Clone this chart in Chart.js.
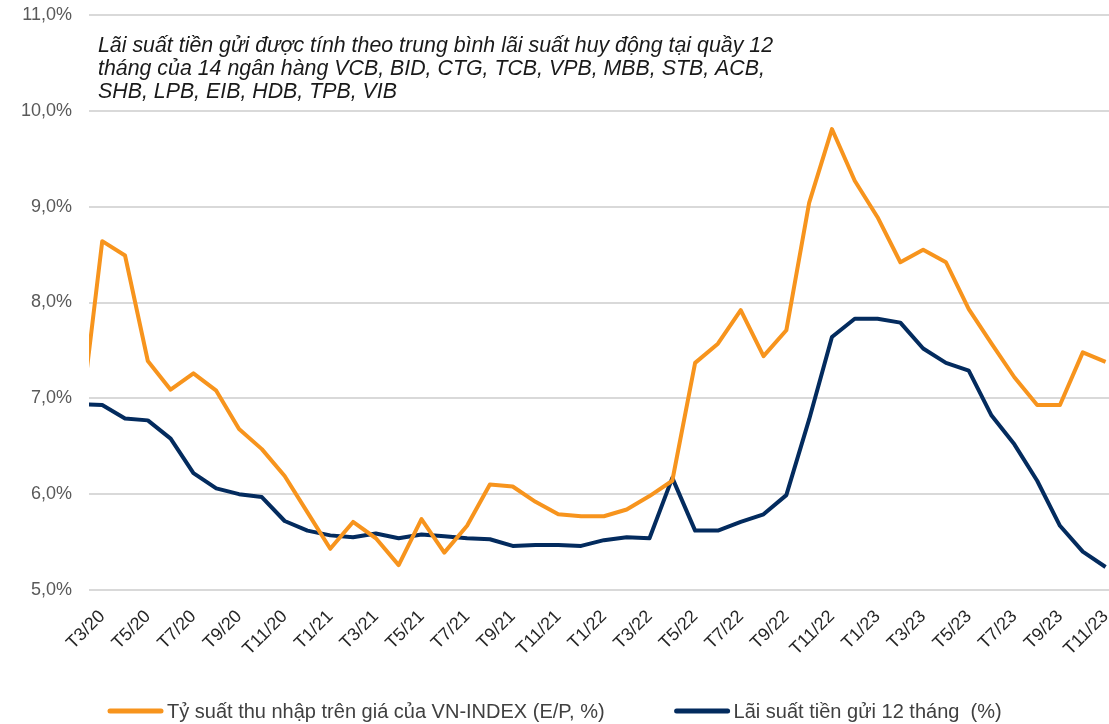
<!DOCTYPE html>
<html lang="vi">
<head>
<meta charset="utf-8">
<title>E/P VN-INDEX và lãi suất tiền gửi 12 tháng</title>
<script src="https://cdn.jsdelivr.net/npm/chart.js@4.4.1/dist/chart.umd.min.js"></script>
<style>
  html, body { margin: 0; padding: 0; background: #fff; }
  #wrap { position: relative; width: 1109px; height: 724px; }
</style>
</head>
<body>
<div id="wrap"><canvas id="chart"></canvas></div>
<script>
// Months T2/20 .. T11/23 (axis labels are shown every other month, from T3/20)
const months = [
  'T2/20', 'T3/20', 'T4/20', 'T5/20', 'T6/20', 'T7/20', 'T8/20', 'T9/20', 'T10/20', 'T11/20', 'T12/20',
  'T1/21', 'T2/21', 'T3/21', 'T4/21', 'T5/21', 'T6/21', 'T7/21', 'T8/21', 'T9/21', 'T10/21', 'T11/21', 'T12/21',
  'T1/22', 'T2/22', 'T3/22', 'T4/22', 'T5/22', 'T6/22', 'T7/22', 'T8/22', 'T9/22', 'T10/22', 'T11/22', 'T12/22',
  'T1/23', 'T2/23', 'T3/23', 'T4/23', 'T5/23', 'T6/23', 'T7/23', 'T8/23', 'T9/23', 'T10/23', 'T11/23'
];

// E/P of VN-INDEX, %
const earningsYield = [
  6.65, 8.64, 8.49, 7.39, 7.09, 7.26, 7.08, 6.68, 6.47, 6.19, 5.81,
  5.43, 5.71, 5.54, 5.26, 5.74, 5.39, 5.67, 6.10, 6.08, 5.92, 5.79, 5.77,
  5.77, 5.84, 5.98, 6.14, 7.37, 7.57, 7.92, 7.44, 7.71, 9.04, 9.81, 9.27,
  8.89, 8.42, 8.55, 8.42, 7.93, 7.57, 7.22, 6.93, 6.93, 7.48, 7.38
];

// 12-month deposit rate, %
const depositRate = [
  6.94, 6.93, 6.79, 6.77, 6.58, 6.22, 6.06, 6.00, 5.97, 5.72, 5.62,
  5.57, 5.55, 5.59, 5.54, 5.58, 5.56, 5.54, 5.53, 5.46, 5.47, 5.47, 5.46,
  5.52, 5.55, 5.54, 6.17, 5.62, 5.62, 5.71, 5.79, 5.99, 6.78, 7.64, 7.83,
  7.83, 7.79, 7.52, 7.37, 7.29, 6.82, 6.52, 6.14, 5.67, 5.40, 5.24
];

const seriesNames = [
  'Tỷ suất thu nhập trên giá của VN-INDEX (E/P, %)',
  'Lãi suất tiền gửi 12 tháng  (%)'
];

const noteLines = [
  'Lãi suất tiền gửi được tính theo trung bình lãi suất huy động tại quầy 12',
  'tháng của 14 ngân hàng VCB, BID, CTG, TCB, VPB, MBB, STB, ACB,',
  'SHB, LPB, EIB, HDB, TPB, VIB'
];

const ORANGE = '#F7941D';
const NAVY = '#032B5E';
const FONT = '"Liberation Sans", Arial, sans-serif';

const toPoints = arr => arr.map((v, i) => ({ x: i, y: v }));

// drop the label overhang padding so the plot runs edge to edge
const noOverhang = scale => {
  scale.paddingTop = 0;
  scale.paddingBottom = 0;
  scale.paddingLeft = 0;
  scale.paddingRight = 0;
};

// italic footnote in the top-left corner, condensed to the narrow face look
const notePlugin = {
  id: 'note',
  afterDraw(chart) {
    const ctx = chart.ctx;
    ctx.save();
    ctx.font = 'italic 22px ' + FONT;
    ctx.fillStyle = '#1a1a1a';
    ctx.textBaseline = 'alphabetic';
    const sx = 675 / ctx.measureText(noteLines[0]).width;
    noteLines.forEach((t, i) => {
      ctx.save();
      ctx.translate(98, 52 + i * 23);
      ctx.scale(sx, 1);
      ctx.fillText(t, 0, 0);
      ctx.restore();
    });
    ctx.restore();
  }
};

// legend row under the axis: short thick line + label for each dataset
const legendPlugin = {
  id: 'lineLegend',
  afterDraw(chart) {
    const ctx = chart.ctx;
    const sets = chart.data.datasets;
    const swatch = 55, gapText = 4, gapItem = 70, y = 711;
    ctx.save();
    ctx.font = '20px ' + FONT;
    ctx.textBaseline = 'middle';
    let x = 108;
    sets.forEach(d => {
      ctx.strokeStyle = d.borderColor;
      ctx.lineWidth = 5;
      ctx.lineCap = 'round';
      ctx.beginPath();
      ctx.moveTo(x + 2, y);
      ctx.lineTo(x + swatch - 2, y);
      ctx.stroke();
      ctx.fillStyle = '#404040';
      ctx.fillText(d.label, x + swatch + gapText, y + 1);
      x += swatch + gapText + ctx.measureText(d.label).width + gapItem;
    });
    ctx.restore();
  }
};

new Chart(document.getElementById('chart'), {
  type: 'line',
  data: {
    datasets: [
      {
        label: seriesNames[0],
        data: toPoints(earningsYield),
        borderColor: ORANGE,
        backgroundColor: ORANGE,
        borderWidth: 4,
        borderJoinStyle: 'round',
        pointRadius: 0,
        tension: 0
      },
      {
        label: seriesNames[1],
        data: toPoints(depositRate),
        borderColor: NAVY,
        backgroundColor: NAVY,
        borderWidth: 4,
        borderJoinStyle: 'round',
        pointRadius: 0,
        tension: 0
      }
    ]
  },
  options: {
    responsive: true,
    maintainAspectRatio: false,
    animation: false,
    layout: { padding: { top: 15, right: 0, bottom: 0, left: 0 } },
    plugins: {
      legend: { display: false },
      tooltip: { enabled: false }
    },
    scales: {
      x: {
        type: 'linear',
        min: 0.42,
        max: 45.15,
        grid: { display: false },
        border: { display: false },
        afterBuildTicks: scale => {
          scale.ticks = months.map((m, i) => i).filter(i => i % 2 === 1).map(v => ({ value: v }));
        },
        afterFit: scale => { scale.height = 134; noOverhang(scale); },
        ticks: {
          autoSkip: false,
          minRotation: 45,
          maxRotation: 45,
          padding: 8,
          color: '#262626',
          font: { family: FONT, size: 18 },
          callback: v => months[v]
        }
      },
      y: {
        min: 5,
        max: 11,
        grid: { color: '#D9D9D9', lineWidth: 2, drawTicks: false },
        border: { display: false },
        afterFit: scale => { scale.width = 89; noOverhang(scale); },
        ticks: {
          stepSize: 1,
          padding: 17,
          color: '#595959',
          font: { family: FONT, size: 18 },
          callback: v => v.toFixed(1).replace('.', ',') + '%'
        }
      }
    }
  },
  plugins: [notePlugin, legendPlugin]
});
</script>
</body>
</html>
